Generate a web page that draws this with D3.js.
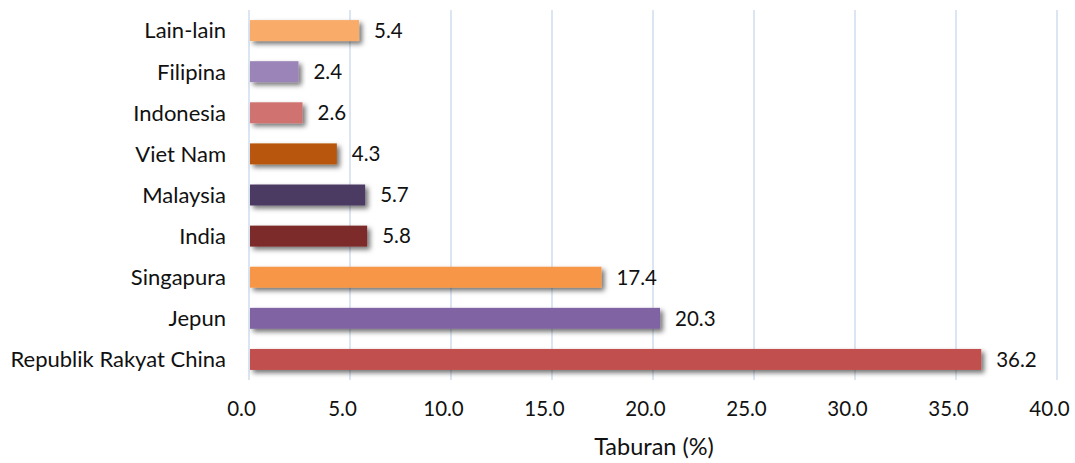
<!DOCTYPE html>
<html>
<head>
<meta charset="utf-8">
<script src="https://cdn.jsdelivr.net/npm/d3@7"></script>
<style>
  body { margin: 0; background: #fff; }
  svg text { font-family: Lato, "Open Sans", sans-serif; fill: #111; }
</style>
</head>
<body>
<div id="chart"></div>
<script>
// data, top to bottom as drawn
const categories = ['Lain-lain', 'Filipina', 'Indonesia', 'Viet Nam', 'Malaysia', 'India', 'Singapura', 'Jepun', 'Republik Rakyat China'];
const values = [5.4, 2.4, 2.6, 4.3, 5.7, 5.8, 17.4, 20.3, 36.2];
const barColors = ['#F9AC6B', '#9B85B8', '#D0736F', '#B8570B', '#4C3B63', '#7B2C2B', '#F79646', '#8064A2', '#C0504D'];
const xTicks = [0, 5, 10, 15, 20, 25, 30, 35, 40];
const xTitle = 'Taburan (%)';

const width = 1075, height = 463;
const margin = { top: 10, right: 18, bottom: 83, left: 249 };
const fontSize = 22;
const numSize = 20.5;

const svg = d3.select('#chart').append('svg')
    .attr('width', width)
    .attr('height', height);

// shadow under bars
const defs = svg.append('defs');
const shadow = defs.append('filter')
    .attr('id', 'barShadow')
    .attr('x', '-5%').attr('y', '-30%')
    .attr('width', '120%').attr('height', '190%');
shadow.append('feDropShadow')
    .attr('dx', 3).attr('dy', 3)
    .attr('stdDeviation', 2.5)
    .attr('flood-color', '#000')
    .attr('flood-opacity', 0.55);

const x = d3.scaleLinear()
    .domain([0, 40])
    .range([margin.left, width - margin.right]);

const y = d3.scaleBand()
    .domain(categories)
    .range([margin.top, height - margin.bottom])
    .paddingInner(0.49)
    .paddingOuter(0.245);

// vertical gridlines
svg.append('g')
    .selectAll('line')
    .data(xTicks)
    .join('line')
    .attr('x1', d => x(d)).attr('x2', d => x(d))
    .attr('y1', margin.top).attr('y2', height - margin.bottom)
    .attr('stroke', '#C9D9EC')
    .attr('stroke-width', 1.3);

// bars
svg.append('g')
    .selectAll('rect')
    .data(values)
    .join('rect')
    .attr('x', x(0) + 1)
    .attr('y', (d, i) => y(categories[i]))
    .attr('width', d => x(d) - x(0))
    .attr('height', y.bandwidth())
    .attr('fill', (d, i) => barColors[i])
    .attr('filter', 'url(#barShadow)');

// value labels
svg.append('g')
    .selectAll('text')
    .data(values)
    .join('text')
    .attr('x', d => x(d) + 16)
    .attr('y', (d, i) => y(categories[i]) + y.bandwidth() / 2)
    .attr('dy', '0.36em')
    .attr('font-size', numSize)
    .text(d => d.toFixed(1));

// category labels
svg.append('g')
    .selectAll('text')
    .data(categories)
    .join('text')
    .attr('x', margin.left - 23)
    .attr('y', d => y(d) + y.bandwidth() / 2)
    .attr('dy', '0.36em')
    .attr('text-anchor', 'end')
    .attr('font-size', fontSize)
    .text(d => d);

// x axis (labels sit a little left of their gridline, as in the original)
const xAxis = svg.append('g')
    .attr('transform', `translate(0,${height - margin.bottom})`)
    .call(d3.axisBottom(x).tickValues(xTicks).tickFormat(d3.format('.1f')).tickSize(0).tickPadding(21));
xAxis.select('.domain').remove();
xAxis.selectAll('text')
    .attr('dx', -8)
    .attr('font-size', numSize)
    .attr('font-family', 'Lato, "Open Sans", sans-serif')
    .attr('fill', '#111');

svg.append('text')
    .attr('x', 654)
    .attr('y', 455)
    .attr('text-anchor', 'middle')
    .attr('font-size', 23.5)
    .text(xTitle);
</script>
</body>
</html>
